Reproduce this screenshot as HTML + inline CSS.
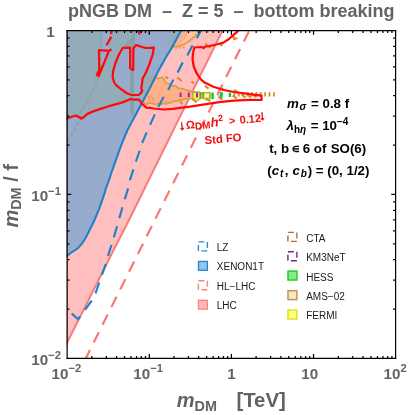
<!DOCTYPE html>
<html>
<head>
<meta charset="utf-8">
<title>pNGB DM - Z = 5 - bottom breaking</title>
<style>
html,body{margin:0;padding:0;background:#fff;}
body{width:410px;height:415px;overflow:hidden;}
svg{display:block;will-change:transform;}
text{font-family:"Liberation Sans","DejaVu Sans",sans-serif;}
.g{fill:#636363;font-weight:bold;}
.k{fill:#000;font-weight:bold;font-size:13.3px;}
.lg{fill:#1a1a1a;font-size:10px;}
.r{fill:#f01010;font-weight:bold;font-size:10.5px;}
</style>
</head>
<body>
<svg width="410" height="415" viewBox="0 0 410 415">
<rect x="0" y="0" width="410" height="415" fill="#fff"/>
<defs>
<clipPath id="fr"><rect x="66.4" y="30.1" width="329.4" height="328.6"/></clipPath>
</defs>

<!-- ================= PLOT CONTENT ================= -->
<g clip-path="url(#fr)">
<!-- LHC -->
<polygon id="lhc" points="60,25 225.3,25 222.6,30.4 159.7,157.8 129,220 108.6,260 67.4,342 60,357" fill="#ffbfbf"/>
<path d="M225.3,25 L222.6,30.4 L159.7,157.8 L129,220 L108.6,260 L67.4,342 L62,352.7" fill="none" stroke="#f87c7c" stroke-width="2"/>

<!-- XENON1T -->
<path id="xe" d="M60,23 L185.3,23 L180.85,30.9 L175.7,40.4 L170.6,49.6 L165.5,58 L160.4,67.2 L158.8,70 L149.3,89 L142,102.9 L134.6,116.8 L127.5,130 L122,143.2 L116.1,159.3 L111,173.9 L109,180 L105.9,188.5 L104.6,193.2 L99.5,207.8 L94.4,220.2 L90,229 L86,237.3 L82.3,243.2 L77.9,248.3 L72,252 L66.2,256.3 L60,260.5 Z" fill="#97accd"/>

<!-- gray overlay -->
<g id="gray" fill="#94acba">
<path d="M60,25 L100.9,25 L100.9,50 L99,50.1 L99.3,70 L96.7,74.8 L98.8,76 L108.9,50.9 L109,25 L137,25 L137,30 L134.5,38 L133.4,48.2 L133.2,69.9 L130.1,68.3 L130.1,47.6 L122.8,47.8 L119.1,54.3 L115.5,62.8 L113,71.4 L112.7,77.5 L114.3,82.6 L116.1,85.2 L120,88.4 L123.7,91 L127.3,93.5 L131,94.8 L134.6,95 L139,94.8 L141,95 L139,99.7 L134.6,99.6 L131.7,99.4 L130.2,99 L127.3,100.5 L123.7,101.9 L120,103.2 L115.2,104.3 L107.9,106.5 L100.6,108.9 L93.3,111.4 L87.4,113.9 L84.5,116.5 L81.6,118.7 L78.6,116.8 L75.7,115.5 L70.6,117.2 L65.5,119.1 L62,120.3 L60,121 Z"/>
<path d="M67.2,142 L74,130 L81,118 L80,112.5 L86.5,103 L91,95 L94.7,88 L98.6,77 L100.6,70 L100.6,30" fill="none" stroke="#89a2a4" stroke-width="1.8" stroke-dasharray="4.2 2.2"/>
<path d="M130.3,69 L133.8,70 L133.8,112 L133,116 L131.2,116 L130.3,112 Z" fill="#87a0a3"/>
<path d="M133.2,30.5 L135,30.5 L134.8,40 L134.5,48 L133.6,69.8 L130.2,68.2 L130.6,48 L131.4,40 Z" fill="#88a1a4"/>
<path d="M132.4,36.5 L123.4,45.8 L126.2,47 L133.2,41 Z" fill="#88a1a4"/>
<path d="M142.5,78.7 L146,75.5 L152.5,77 L150,85 L147,92.5 L141.2,92 L142.3,88 Z"/>
</g>

<!-- AMS-02 orange -->
<g id="ams">
<path d="M171.4,32.5 L178.6,32.5 L172.6,46 L166.8,45.4 L166.6,42 L170.4,41.6 Z" fill="#94acba"/>
<path d="M181,30 L199.6,30 L198.5,32.4 L195.3,36.4 L191.8,39.4 L187.7,42.3 L184.2,44.3 L179.5,45.4 L176,47 L172.2,46.6 Z" fill="#ffc2a4"/>
<path d="M181,30 L187.8,30 L186.6,35.3 L184.2,38.8 L180.7,42.3 L176,44.2 L173.4,44.6 Z" fill="#fcb292"/>
<path d="M187.6,31 L186.4,35.3 L184,38.8 L180.5,42.3 L176,44.2" fill="none" stroke="#f4a888" stroke-width="1"/>
<path d="M198.6,32 L197.4,34.2 L195.6,34.4 L195.2,36.6 L193.4,36.8 L192.8,38.8 L191,39 L190.2,40.8 L188.4,41.2 L187.4,42.8 L185.6,43 L184.2,44.6 L182,44.4 L180.6,45.8 L178.6,45.2 L177,46.8 L175,46 L173.4,47.2 L171.6,46.2" fill="none" stroke="#d9a040" stroke-width="1.6"/>
<path d="M178.6,46.6 L181,48.4 M182.4,46.8 L184.6,48 M175.4,47.6 L176.6,48.6" fill="none" stroke="#ee9060" stroke-width="1.4"/>
<path d="M141.2,88.4 L149.5,88.6 L142.4,102.2 L140.5,101.6 L139,99.7 L139,94.8 L140.8,93.1 L142.3,90.6 Z" fill="#9aaec2"/>
<path d="M154.5,78.3 L159.3,79 L164.2,80.3 L166.3,84.3 L173.4,87.3 L178.2,89 L184,91 L188,92 L196,93.2 L206,94.3 L206,97 L196,97.4 L188,97.8 L184.3,98.2 L179.5,99.2 L173.4,100.4 L168.5,102.2 L163.6,102.4 L158.1,102.8 L152.6,102.4 L146.5,102.8 L143.4,101.6 L149.3,89 Z" fill="#feb08b"/>
<path d="M151.6,80.6 L153.9,77.8 L159.3,78.4 L162,77.6 L164.2,79.6 L166,83.2 L168.6,83.6 L173.4,86.3 L175.6,86 L178.2,88.1 L183,89 L188,90.6 L196,92.3 L205,93.6" fill="none" stroke="#dba044" stroke-width="1.9"/>
<path d="M143.5,102.8 L146.5,104.2 L149.4,102.8 L152.6,103.6 L155.4,104.4 L158.1,103.4 L161,104.4 L163.6,103.2 L166,104 L168.5,102.8 L171,102.8 L173.4,101.2 L176.4,101.2 L179.5,100 L182,100.2 L184.3,99 L188,98.6 L196,98.1 L205,97.6" fill="none" stroke="#dba044" stroke-width="1.9"/>
<path d="M148.6,95.6 L149.6,101.4 M151.4,96.5 L154,100.6 M147,84.5 L150.5,82.2 M164.6,100.6 L167,102 M186,90.2 L189,91" fill="none" stroke="#ee9560" stroke-width="1.3"/>
</g>

<!-- FERMI / HESS / KM3NeT marks -->
<g id="marks">
<path d="M193.3,92 V98.7 M199.9,92 V98.7 M203.5,92 V98.7 M209.4,92.4 V99 M212.6,92.4 V99.2 M229.9,92.8 V96.9" fill="none" stroke="#1fc030" stroke-width="2.4"/>
<path d="M221.5,92.3 L220.8,98.3" fill="none" stroke="#1fc030" stroke-width="3.1"/>
<path d="M217.7,92.4 V96" fill="none" stroke="#9fe3a6" stroke-width="1.4"/>
<path d="M193,92.6 L199.4,92 L199.8,99.2 L196.6,101 L192.4,100 Z" fill="#eef060" stroke="#b6b61e" stroke-width="1.2"/>
<path d="M204,92.8 L209.8,92.4 L209.4,98.4 L206.6,100 L203.8,98.4 Z" fill="#f4f58a" stroke="#b6b61e" stroke-width="1.2"/>
<path d="M205.4,94.2 L208,95.2 L206.8,97.4 Z" fill="#ffffd8"/>
<path d="M180.6,92.6 V97 M188.8,92.6 V97 M197,92.4 V97.4" fill="none" stroke="#a020a8" stroke-width="1.9"/>
</g>

<!-- LZ dashed -->
<path id="lz" d="M202.3,28.2 L200.7,31.2 L195.9,39.7 L192.5,45.6 L187.1,55.8 L182.7,62.4 L177.6,72.6 L173.5,79.2 L169.2,88 L167.6,90.5 L163.2,97.8 L158,107.3 L154.4,115.4 L150,124.9 L146.8,132.2 L142.4,142.4 L139.5,151.2 L135.9,161.5 L133.4,169.5 L130,179.8 L128.3,188 L124.8,199 L122.5,207.1 L119.3,218.3 L117.1,226.1 L113.9,237.1 L111.6,244.6 L107.9,256.3 L105.7,264.4 L102,274.6 L99.1,283 L95.5,293.4 L91.8,300.7 L85.2,309.5 L80.1,316.8 L77.9,319 L72,313.9 L65.5,308.3 L62,305.3" fill="none" stroke="#1f82c8" stroke-width="2.15" stroke-dasharray="11.5 8.2"/>

<!-- HL-LHC dashed -->
<path id="hl" d="M249.7,29.8 L86,358 L83,364" fill="none" stroke="#f87878" stroke-width="2.2" stroke-dasharray="11.5 8.28" stroke-dashoffset="-1.7"/>

<!-- XENON1T border -->
<path d="M185.3,23 L180.85,30.9 L175.7,40.4 L170.6,49.6 L165.5,58 L160.4,67.2 L158.8,70 L149.3,89 L142,102.9 L134.6,116.8 L127.5,130 L122,143.2 L116.1,159.3 L111,173.9 L109,180 L105.9,188.5 L104.6,193.2 L99.5,207.8 L94.4,220.2 L90,229 L86,237.3 L82.3,243.2 L77.9,248.3 L72,252 L66.2,256.3 L60,260.5" fill="none" stroke="#1f82c8" stroke-width="2.1"/>

<!-- CTA dashes -->
<g id="cta" fill="none" stroke="#de8a2c" stroke-width="2">
<path d="M165.4,76.6 L168.2,78.6 M177,77.6 L181.9,80.8 M191.4,81.4 L194,83.6 M204.8,85.6 L208.6,88.6 M220.4,87.8 L224.4,90.4 M234,89.8 L238,92.4"/>
<path d="M180,101.6 L182.6,104.4 M192.6,98.4 L196.4,102.6 M206,98 L210.2,101.4 M218.4,96.6 L222.4,99.8 M232.6,95.6 L236.8,98.4 M241.4,94.4 L245.6,97.6 M247.4,94.6 L251,97.4 M253,95 L256.4,97.4"/>
<path d="M232.4,36.6 L236,38.6 L233,39.6 M219.6,44 L222.6,45.6 M205.2,43.4 L207.6,45.2 M208.4,46.2 L210.6,47.8"/>
<path d="M233.4,94.3 L275.2,94.3" stroke="#d68c30" stroke-width="4.2" stroke-dasharray="1.85 2.55"/>
</g>

<!-- red relic curves -->
<g id="red" fill="none" stroke="#ff0a0a" stroke-width="2.25" stroke-linejoin="round" stroke-linecap="round">
<path d="M62,120.3 L65.5,119.1 L70.6,117.2 L75.7,115.5 L78.6,116.8 L81.6,118.7 L84.5,116.5 L87.4,113.9 L93.3,111.4 L100.6,108.9 L107.9,106.5 L115.2,104.3 L120,103.2 L123.7,101.9 L127.3,100.5 L130.2,99 L131.7,99.4 L134.6,99.6 L139,99.7 L140.5,101.6 L141.9,103.8 L144.5,105.9 L146.3,107.6 L150,107.9 L153.7,108.5 L163.9,109.5 L172.7,108.8 L180,107.8 L190,106.6 L204.6,104.4 L219.3,102.2 L233.9,100.6 L250,99.9 L261.5,100 L261.5,95.6 L250,94.1 L233.9,92 L223.7,90 L213.4,86.8 L204.6,82.6 L200.6,79.2 L196.6,73.2 L193.7,66.3 L192.6,59.5 L192.9,53.7 L194.3,47.5 L201.8,47 L203.5,48.1 L204.9,46.7 L209.8,46 L216.6,44.5 L223.4,42.6 L229.3,38.7 L234.1,34.3 L237.6,31.3 L241,27"/>
<path d="M122.8,47.8 L130.1,47.6 L130.1,68.3 L133.2,69.9 L133.4,48.2 L136.2,45.1 L145.4,48 L153.9,47.6 L152.7,54.3 L149,65.3 L145.4,73.8 L142.5,78.7 L142,84 L141.2,88.4 L142.3,90.6 L140.8,93.1 L139,94.8 L134.6,95 L131,94.8 L127.3,93.5 L123.7,91 L120,88.4 L116.1,85.2 L114.3,82.6 L112.7,77.5 L113,71.4 L115.5,62.8 L119.1,54.3 Z"/>
<path d="M110.7,49.7 L108.9,50.9 L99,50.1 L99.3,70 L96.7,74.8 L98.8,76 L99.8,73.5 L108.9,50.9"/>
<path d="M111.5,30.6 L111,34 M111.2,36.8 L109.8,39.4 L106.4,45.3" stroke-linecap="butt"/>
<path d="M138.2,31.2 L140.8,31.2 L139.5,34.6 Z" fill="#ff0a0a" stroke-width="1"/>
</g>
</g>

<!-- ================= FRAME & TICKS ================= -->
<g id="frame" fill="none" stroke="#000">
<path d="M67.15,29.9 V359 M395.6,29.9 V359" stroke-width="1.2"/>
<path d="M66.55,30.5 H396.2 M66.55,358.4 H396.2" stroke-width="1.25"/>
</g>
<g id="ticks" stroke="#000" stroke-width="1.25" fill="none"><path d="M91.83,358.4v-2.5M91.83,30.5v2.5M106.30,358.4v-2.5M106.30,30.5v2.5M116.56,358.4v-2.5M116.56,30.5v2.5M124.52,358.4v-2.5M124.52,30.5v2.5M131.03,358.4v-2.5M131.03,30.5v2.5M136.52,358.4v-2.5M136.52,30.5v2.5M141.29,358.4v-2.5M141.29,30.5v2.5M145.49,358.4v-2.5M145.49,30.5v2.5M149.25,358.4v-4.3M149.25,30.5v4.3M173.98,358.4v-2.5M173.98,30.5v2.5M188.45,358.4v-2.5M188.45,30.5v2.5M198.71,358.4v-2.5M198.71,30.5v2.5M206.67,358.4v-2.5M206.67,30.5v2.5M213.18,358.4v-2.5M213.18,30.5v2.5M218.67,358.4v-2.5M218.67,30.5v2.5M223.44,358.4v-2.5M223.44,30.5v2.5M227.64,358.4v-2.5M227.64,30.5v2.5M231.40,358.4v-4.3M231.40,30.5v4.3M256.13,358.4v-2.5M256.13,30.5v2.5M270.60,358.4v-2.5M270.60,30.5v2.5M280.86,358.4v-2.5M280.86,30.5v2.5M288.82,358.4v-2.5M288.82,30.5v2.5M295.33,358.4v-2.5M295.33,30.5v2.5M300.82,358.4v-2.5M300.82,30.5v2.5M305.59,358.4v-2.5M305.59,30.5v2.5M309.79,358.4v-2.5M309.79,30.5v2.5M313.55,358.4v-4.3M313.55,30.5v4.3M338.28,358.4v-2.5M338.28,30.5v2.5M352.75,358.4v-2.5M352.75,30.5v2.5M363.01,358.4v-2.5M363.01,30.5v2.5M370.97,358.4v-2.5M370.97,30.5v2.5M377.48,358.4v-2.5M377.48,30.5v2.5M382.97,358.4v-2.5M382.97,30.5v2.5M387.74,358.4v-2.5M387.74,30.5v2.5M391.94,358.4v-2.5M391.94,30.5v2.5M67.0,309.05h2.5M395.6,309.05h-2.5M67.0,280.18h2.5M395.6,280.18h-2.5M67.0,259.69h2.5M395.6,259.69h-2.5M67.0,243.80h2.5M395.6,243.80h-2.5M67.0,230.82h2.5M395.6,230.82h-2.5M67.0,219.85h2.5M395.6,219.85h-2.5M67.0,210.34h2.5M395.6,210.34h-2.5M67.0,201.95h2.5M395.6,201.95h-2.5M67.0,194.45h4.3M395.6,194.45h-4.3M67.0,145.10h2.5M395.6,145.10h-2.5M67.0,116.23h2.5M395.6,116.23h-2.5M67.0,95.74h2.5M395.6,95.74h-2.5M67.0,79.85h2.5M395.6,79.85h-2.5M67.0,66.87h2.5M395.6,66.87h-2.5M67.0,55.90h2.5M395.6,55.90h-2.5M67.0,46.39h2.5M395.6,46.39h-2.5M67.0,38.00h2.5M395.6,38.00h-2.5"/></g>

<!-- ================= TEXT ================= -->
<text class="g" x="231.2" y="16.7" font-size="18" text-anchor="middle" xml:space="preserve">pNGB DM  –  Z = 5  –  bottom breaking</text>

<!-- x tick labels -->
<g class="g" font-size="15.2">
<text x="51.6" y="378.8"><tspan>10</tspan><tspan font-size="11.2" dy="-6.7">−2</tspan></text>
<text x="133.3" y="378.8"><tspan>10</tspan><tspan font-size="11.2" dy="-6.7">−1</tspan></text>
<text x="231.5" y="378.8" text-anchor="middle">1</text>
<text x="309.8" y="378.8" text-anchor="middle">10</text>
<text x="383.5" y="378.8"><tspan>10</tspan><tspan font-size="11.2" dy="-6.7">2</tspan></text>
<!-- y tick labels -->
<text x="31.2" y="365.4"><tspan>10</tspan><tspan font-size="11.2" dy="-6.7">−2</tspan></text>
<text x="31.2" y="201.4"><tspan>10</tspan><tspan font-size="11.2" dy="-6.7">−1</tspan></text>
<text x="54.6" y="37.3" text-anchor="end">1</text>
</g>

<!-- axis titles -->
<text class="g" x="176.8" y="407.4" font-size="20"><tspan font-style="italic">m</tspan><tspan font-size="14.4" dy="3.2">DM</tspan></text>
<text class="g" x="236.4" y="407.4" font-size="20.4">[TeV]</text>
<text class="g" transform="translate(17.7,227.6) rotate(-90)" font-size="20" xml:space="preserve"><tspan font-style="italic">m</tspan><tspan font-size="14.4" dy="3.2">DM</tspan><tspan dy="-3.2"> / f</tspan></text>

<!-- annotations -->
<g class="k">
<text x="287" y="107.5" xml:space="preserve"><tspan font-style="italic">m</tspan><tspan font-size="10" dy="2.6" dx="0.7" font-style="italic">σ</tspan><tspan dy="-2.6" dx="1.2"> = 0.8 f</tspan></text>
<text x="286.6" y="130.4" xml:space="preserve"><tspan font-style="italic">λ</tspan><tspan font-size="10" dy="2.6">h<tspan font-style="italic">η</tspan></tspan><tspan dy="-2.6" dx="0.8"> = 10</tspan><tspan font-size="10" dy="-5.5">−4</tspan></text>
<text x="269.2" y="152.8" xml:space="preserve">t, b<tspan font-size="8.4" dy="-0.7" dx="2.9" stroke="#000" stroke-width="0.3">∈</tspan><tspan dy="0.7" dx="-0.5"> 6 of</tspan><tspan dx="0.6"> SO(6)</tspan></text>
<text x="267.3" y="174.8" xml:space="preserve">(<tspan font-style="italic">c</tspan><tspan font-size="10" dy="2.6" dx="0.8" font-style="italic">t</tspan><tspan dy="-2.6" dx="1.5">, </tspan><tspan font-style="italic" dx="0.4">c</tspan><tspan font-size="10" dy="2.6" dx="0.8" font-style="italic">b</tspan><tspan dy="-2.6" dx="0.8">) = (0, 1/2)</tspan></text>
</g>

<!-- red annotation -->
<g class="r" transform="translate(180,129.6) rotate(-5.5)">
<text x="-1" y="0.6" font-size="13.5" stroke="#f01010" stroke-width="0.55">↓</text>
<text x="6.3" y="0" font-size="11.2">Ω</text>
<text x="15.2" y="1.5" font-size="10">DM</text>
<text x="31.2" y="0.3" font-size="13" font-style="italic">h</text>
<text x="38.8" y="-4.6" font-size="9">2</text>
<text x="49.5" y="0" font-size="11">&gt;</text>
<text x="60.2" y="0" font-size="11">0.12</text>
<text x="79.8" y="-1.8" font-size="13.5" stroke="#f01010" stroke-width="0.55">↓</text>
<text x="23.4" y="17.1" font-size="11.3">Std FO</text>
</g>

<!-- legend -->
<g id="legend">
<rect x="198.4" y="241.9" width="9" height="9" fill="none" stroke="#2f8bcf" stroke-width="1.4" stroke-dasharray="6 3"/>
<rect x="198.5" y="261.4" width="8.9" height="8.9" fill="#97c4e6" stroke="#2585cc" stroke-width="1.3"/>
<rect x="198.4" y="280.8" width="9" height="9" fill="none" stroke="#f98484" stroke-width="1.4" stroke-dasharray="6 3"/>
<rect x="198.5" y="300.3" width="8.9" height="8.9" fill="#ffbcbc" stroke="#f98484" stroke-width="1.3"/>
<rect x="287.9" y="232.4" width="9" height="9" fill="none" stroke="#b26c34" stroke-width="1.4" stroke-dasharray="6 3"/>
<rect x="287.9" y="251.8" width="9" height="9" fill="none" stroke="#7a2282" stroke-width="1.4" stroke-dasharray="6 3"/>
<rect x="288" y="271.1" width="8.9" height="8.9" fill="#84ee84" stroke="#2cc82c" stroke-width="1.5"/>
<rect x="288" y="290.7" width="8.9" height="8.9" fill="#eeeeba" stroke="#c98f5c" stroke-width="1.5"/>
<rect x="288" y="310.1" width="8.9" height="8.9" fill="#ffff80" stroke="#e0e022" stroke-width="1.5"/>
<g class="lg">
<text x="216.8" y="251.4">LZ</text>
<text x="216.8" y="270.3">XENON1T</text>
<text x="216.8" y="289.6">HL−LHC</text>
<text x="216.8" y="309.3">LHC</text>
<text x="306.2" y="241.7">CTA</text>
<text x="306.2" y="261.4">KM3NeT</text>
<text x="306.2" y="280.7">HESS</text>
<text x="306.2" y="300">AMS−02</text>
<text x="306.2" y="319.3">FERMI</text>
</g>
</g>

</svg>
</body>
</html>
